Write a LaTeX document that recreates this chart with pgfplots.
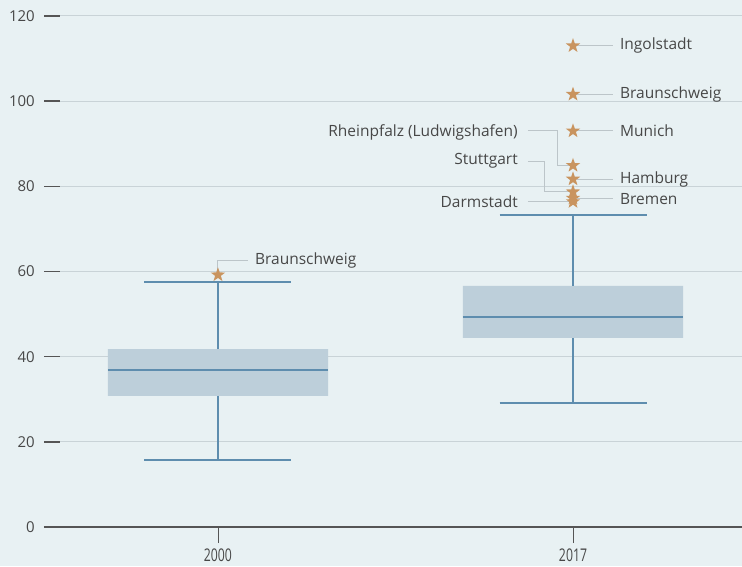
\documentclass[border=0pt]{standalone}
\usepackage{fontspec}
\setmainfont{Open Sans}
\newfontfamily\condfont[FakeStretch=0.7]{Open Sans}
\usepackage{pgfplots}
\pgfplotsset{compat=1.18}
\definecolor{bgc}{HTML}{E8F1F3}
\definecolor{boxc}{HTML}{BDCFDA}
\definecolor{linec}{HTML}{5E8DAE}
\definecolor{starc}{HTML}{C9945F}
\definecolor{gridc}{HTML}{C9D3D7}
\definecolor{leadc}{HTML}{BCC5C9}
\definecolor{textc}{HTML}{474747}
\definecolor{tickc}{HTML}{555555}
\pgfdeclareplotmark{fstar}{%
  \pgfpathmoveto{\pgfpointpolar{90}{\pgfplotmarksize}}%
  \pgfpathlineto{\pgfpointpolar{126}{0.40\pgfplotmarksize}}%
  \pgfpathlineto{\pgfpointpolar{162}{\pgfplotmarksize}}%
  \pgfpathlineto{\pgfpointpolar{198}{0.40\pgfplotmarksize}}%
  \pgfpathlineto{\pgfpointpolar{234}{\pgfplotmarksize}}%
  \pgfpathlineto{\pgfpointpolar{270}{0.40\pgfplotmarksize}}%
  \pgfpathlineto{\pgfpointpolar{306}{\pgfplotmarksize}}%
  \pgfpathlineto{\pgfpointpolar{342}{0.40\pgfplotmarksize}}%
  \pgfpathlineto{\pgfpointpolar{18}{\pgfplotmarksize}}%
  \pgfpathlineto{\pgfpointpolar{54}{0.40\pgfplotmarksize}}%
  \pgfpathclose\pgfusepathqfill}
\begin{document}
\begin{tikzpicture}
\fill[bgc] (0pt,0pt) rectangle (742pt,566pt);
\useasboundingbox (0pt,0pt) rectangle (742pt,566pt);
\begin{axis}[
  at={(44pt,39pt)}, anchor=south west,
  scale only axis, width=698pt, height=511pt,
  xmin=-0.49, xmax=1.476, ymin=0, ymax=120,
  axis x line*=bottom, axis y line*=left,
  y axis line style={draw=none},
  x axis line style={draw=tickc, line width=1.2pt, -},
  xtick={0,1}, xticklabels={2000,2017},
  ytick={0,20,...,120},
  ymajorgrids, grid style={gridc, line width=1pt},
  major tick length=16pt,
  xtick align=outside, ytick align=inside,
  ytick style={draw=none},
  xtick style={draw=tickc, line width=0.8pt},
  /pgf/number format/assume math mode=true,
  y tick label style={font=\fontsize{15}{18}\selectfont, text=textc, inner sep=0pt, xshift=-9pt},
  x tick label style={font=\condfont\fontsize{17.5}{18}\selectfont, text=textc, inner sep=0pt, yshift=-6pt},
  clip=false,
]
% boxes
\addplot[fill=boxc, draw=none] coordinates {(-0.31,30.8) (0.31,30.8) (0.31,41.8) (-0.31,41.8) (-0.31,30.8)};
\addplot[fill=boxc, draw=none] coordinates {(0.69,44.4) (1.31,44.4) (1.31,56.6) (0.69,56.6) (0.69,44.4)};
% medians
\addplot[linec, line width=1.3pt] coordinates {(-0.31,36.9) (0.31,36.9)};
\addplot[linec, line width=1.3pt] coordinates {(0.69,49.3) (1.31,49.3)};
% whiskers
\addplot[linec, line width=1.3pt] coordinates {(0,30.8) (0,15.7)};
\addplot[linec, line width=1.3pt] coordinates {(0,41.8) (0,57.5)};
\addplot[linec, line width=1.3pt] coordinates {(-0.207,15.7) (0.207,15.7)};
\addplot[linec, line width=1.3pt] coordinates {(-0.207,57.5) (0.207,57.5)};
\addplot[linec, line width=1.3pt] coordinates {(1,44.4) (1,29.1)};
\addplot[linec, line width=1.3pt] coordinates {(1,56.6) (1,73.3)};
\addplot[linec, line width=1.3pt] coordinates {(0.793,29.1) (1.207,29.1)};
\addplot[linec, line width=1.3pt] coordinates {(0.793,73.3) (1.207,73.3)};
% leader lines
\draw[leadc, line width=1pt] (axis cs:0,60) |- (axis cs:0.085,62.7);
\node[anchor=west, inner sep=0pt, font=\fontsize{15.5}{18}\selectfont, text=textc] at (axis cs:0.104,62.7) {Braunschweig};
\draw[leadc, line width=1pt] (axis cs:1.011,113.0) -- (axis cs:1.113,113.0);
\draw[leadc, line width=1pt] (axis cs:1.011,101.6) -- (axis cs:1.113,101.6);
\draw[leadc, line width=1pt] (axis cs:1.011,93.0) -- (axis cs:1.113,93.0);
\draw[leadc, line width=1pt] (axis cs:1.011,81.7) -- (axis cs:1.113,81.7);
\draw[leadc, line width=1pt] (axis cs:1.011,77.2) -- (axis cs:1.113,77.2);
\begin{scope}[every node/.style={inner sep=0pt, font=\fontsize{15.5}{18}\selectfont, text=textc}]
\node[anchor=west] at (axis cs:1.132,113.0) {Ingolstadt};
\node[anchor=west] at (axis cs:1.132,101.6) {Braunschweig};
\node[anchor=west] at (axis cs:1.132,93.0) {Munich};
\node[anchor=west] at (axis cs:1.132,81.7) {Hamburg};
\node[anchor=west] at (axis cs:1.132,77.0) {Bremen};
\node[anchor=east] at (axis cs:0.845,92.6) {Rheinpfalz (Ludwigshafen)};
\node[anchor=east] at (axis cs:0.845,86.0) {Stuttgart};
\node[anchor=east] at (axis cs:0.845,76.4) {Darmstadt};
\end{scope}
\draw[leadc, line width=1pt] (axis cs:0.873,93.0) -- (axis cs:0.955,93.0) |- (axis cs:0.99,84.9);
\draw[leadc, line width=1pt] (axis cs:0.873,85.8) -- (axis cs:0.921,85.8) |- (axis cs:0.99,78.7);
\draw[leadc, line width=1pt] (axis cs:0.873,76.4) -- (axis cs:0.99,76.4);
\addplot[only marks, mark=fstar, mark size=7.6pt, color=starc] coordinates {
  (0,59.2) (1,113.0) (1,101.6) (1,93.0) (1,84.9) (1,81.7) (1,78.7) (1,77.2) (1,76.4)};
\end{axis}
% y tick marks drawn on top of the grid (axis bottom at 39pt, 511pt per 120 units)
\foreach \k in {1,...,6} {
  \draw[tickc, line width=1.4pt] (44pt,39pt+\k*85.1667pt) -- (60pt,39pt+\k*85.1667pt);
}
\end{tikzpicture}
\end{document}
